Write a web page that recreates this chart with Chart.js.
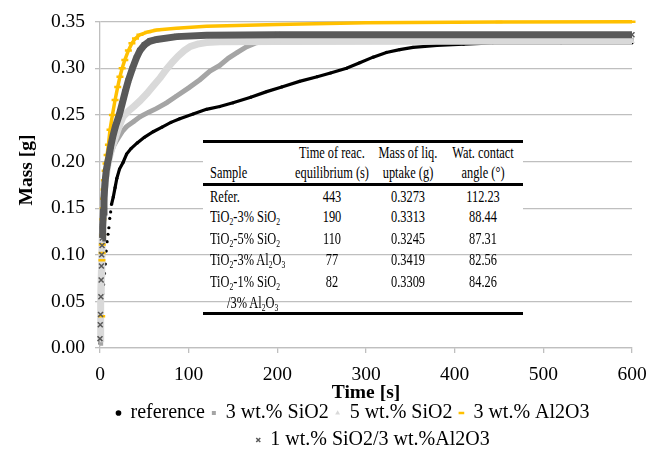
<!DOCTYPE html>
<html>
<head>
<meta charset="utf-8">
<script src="https://cdn.jsdelivr.net/npm/chart.js@4.4.1/dist/chart.umd.min.js"></script>
<style>
  body { margin: 0; background: #fff; }
  #wrap { position: relative; width: 662px; height: 450px; }
  #tbl { position: absolute; left: 0; top: 0; width: 662px; height: 450px; pointer-events: none;
         font-family: 'Liberation Serif', 'Times New Roman', serif; font-size: 16.5px; color: #000; }
  #tbl .cell { position: absolute; white-space: nowrap; line-height: 20px; height: 20px; }
  #tbl .c { transform: translateX(-50%) scaleX(0.75); }
  #tbl .l { transform: scaleX(0.75); transform-origin: 0 50%; }
  #tbl .rule { position: absolute; left: 203px; width: 320px; background: #000; }
  #tbl .cover { position: absolute; left: 203px; width: 320px; top: 139px; height: 110px; background: #fff; }
  #tbl sub { font-size: 0.62em; line-height: 0; vertical-align: -0.3em; }
</style>
</head>
<body>
<div id="wrap">
  <canvas id="myChart" width="662" height="450"></canvas>
  <div id="tbl">
    <div class="cover"></div>
    <div class="rule" style="top:139.5px;height:3px"></div>
    <div class="rule" style="top:183px;height:2.5px"></div>
    <div class="rule" style="top:311.5px;height:3px"></div>
  </div>
</div>
<script>
// time [s] / mass [g]
const refTime = [0, 1, 2, 3, 4, 5, 6, 7, 8, 9, 10, 11, 12, 13, 15, 17, 19, 22, 26, 30, 35, 42, 50, 60, 70, 80, 90, 105, 120, 135, 150, 170, 188, 205, 225, 245, 260, 278, 293, 308, 323, 338, 353, 380, 410, 443, 520, 600];
const refMass = [0.005, 0.025, 0.045, 0.058, 0.068, 0.080, 0.090, 0.104, 0.114, 0.122, 0.129, 0.139, 0.146, 0.154, 0.162, 0.172, 0.182, 0.192, 0.199, 0.208, 0.214, 0.220, 0.226, 0.232, 0.237, 0.242, 0.246, 0.251, 0.256, 0.259, 0.263, 0.269, 0.275, 0.280, 0.286, 0.291, 0.295, 0.300, 0.306, 0.312, 0.317, 0.320, 0.3225, 0.3245, 0.3258, 0.3273, 0.3273, 0.3273];

const si3Time = [0, 0.5, 1, 1.5, 2, 2.5, 3, 3.5, 4, 5, 6, 7, 8, 9.5, 12, 15, 19, 25, 30, 38, 45, 55, 64, 75, 86, 100, 113, 124, 135, 145, 155, 165, 175, 190, 250, 400, 600];
const si3Mass = [0.005, 0.02, 0.04, 0.06, 0.08, 0.10, 0.115, 0.13, 0.142, 0.155, 0.168, 0.18, 0.19, 0.198, 0.208, 0.216, 0.223, 0.232, 0.2375, 0.243, 0.248, 0.253, 0.257, 0.263, 0.270, 0.279, 0.288, 0.297, 0.303, 0.311, 0.317, 0.323, 0.327, 0.330, 0.3305, 0.331, 0.331];

const si5Time = [0, 0.5, 1, 1.5, 2, 2.5, 3, 4, 5, 6, 7.5, 9, 11, 14, 17, 21, 26, 32, 38, 45, 53, 60, 68, 75, 82, 88, 95, 102, 110, 120, 135, 200, 400, 600];
const si5Mass = [0.01, 0.03, 0.055, 0.08, 0.10, 0.12, 0.135, 0.155, 0.17, 0.18, 0.1875, 0.197, 0.206, 0.216, 0.225, 0.236, 0.248, 0.254, 0.259, 0.265, 0.273, 0.281, 0.290, 0.299, 0.307, 0.313, 0.319, 0.3235, 0.326, 0.3277, 0.3285, 0.3288, 0.329, 0.329];

const alTime = [1.9, 2.2, 2.4, 2.6, 2.9, 3.2, 3.6, 4, 4.5, 5, 5.8, 6.8, 8, 9.5, 11.3, 14, 17, 20, 22.5, 25, 28, 32, 36, 40, 45, 54, 64, 86, 120, 200, 300, 450, 600];
const alMass = [0.034, 0.094, 0.102, 0.111, 0.121, 0.138, 0.15, 0.16, 0.17, 0.18, 0.19, 0.198, 0.207, 0.218, 0.234, 0.25, 0.266, 0.28, 0.291, 0.300, 0.309, 0.319, 0.327, 0.332, 0.336, 0.339, 0.341, 0.343, 0.345, 0.347, 0.349, 0.3497, 0.350];

const mixTime = [0, 0.3, 0.6, 1, 1.3, 1.6, 1.9, 2.3, 2.6, 3, 3.8, 4.5, 5.6, 7, 8.5, 10, 12, 14.5, 17.5, 21.7, 25, 28.5, 32, 36.6, 41, 45, 50, 56, 64, 86.5, 120, 200, 600];
const mixMass = [0.01, 0.025, 0.036, 0.055, 0.073, 0.088, 0.1, 0.11, 0.118, 0.13, 0.146, 0.161, 0.177, 0.19, 0.198, 0.205, 0.216, 0.227, 0.238, 0.25, 0.262, 0.275, 0.287, 0.30, 0.311, 0.319, 0.325, 0.329, 0.331, 0.334, 0.3355, 0.336, 0.336];

const seriesNames = ['reference', '3 wt.% SiO2', '5 wt.% SiO2', '3 wt.% Al2O3', '1 wt.% SiO2/3 wt.%Al2O3'];
const yTitle = 'Mass [g]';
const xTitle = 'Time [s]';

// inset table
const tableHead = [['Sample'], ['Time of reac.', 'equilibrium (s)'], ['Mass of liq.', 'uptake (g)'], ['Wat. contact', 'angle (°)']];
const tableSample = [['Refer.'], ['TiO<sub>2</sub>-3% SiO<sub>2</sub>'], ['TiO<sub>2</sub>-5% SiO<sub>2</sub>'], ['TiO<sub>2</sub>-3% Al<sub>2</sub>O<sub>3</sub>'], ['TiO<sub>2</sub>-1% SiO<sub>2</sub>', '/3% Al<sub>2</sub>O<sub>3</sub>']];
const tableTime = ['443', '190', '110', '77', '82'];
const tableMass = ['0.3273', '0.3313', '0.3245', '0.3419', '0.3309'];
const tableAngle = ['112.23', '88.44', '87.31', '82.56', '84.26'];

// table layout (page pixels)
const colX = [210, 331.7, 407.5, 483.3];
const headY = [153.3, 173.3];
const rowY = [196.7, 217.3, 238.8, 260.2, 281.7];
const rowStep = 21.5;

const tbl = document.getElementById('tbl');
function cell(html, x, y, left) {
    const d = document.createElement('div');
    d.className = 'cell ' + (left ? 'l' : 'c');
    d.style.left = x + 'px';
    d.style.top = (y - 10) + 'px';
    d.innerHTML = html;
    tbl.appendChild(d);
}
tableHead.forEach((lines, c) => {
    const first = c === 0 ? 1 : 0;
    lines.forEach((t, k) => cell(t, colX[c], headY[first + k], c === 0));
});
tableSample.forEach((lines, r) => {
    lines.forEach((t, k) => cell(t, colX[0] + (k ? 16.7 : 0), rowY[r] + k * rowStep, true));
    cell(tableTime[r], colX[1], rowY[r]);
    cell(tableMass[r], colX[2], rowY[r]);
    cell(tableAngle[r], colX[3], rowY[r]);
});

const serif = "'Liberation Serif', 'Times New Roman', serif";

function series(i, times, masses, style, lineFrom) {
    return Object.assign({
        label: seriesNames[i],
        data: times.map((t, k) => ({ x: t, y: masses[k] })),
        showLine: true,
        order: 5 - i,
        clip: 10,
        segment: {
            borderColor: c => c.p0.parsed.x < lineFrom ? 'rgba(0,0,0,0)' : undefined
        }
    }, style);
}

// nudge the legend to where the original sits
const legendShift = {
    id: 'legendShift',
    afterLayout(chart) {
        const lg = chart.legend;
        lg.left += 37;
        lg.right += 37;
        lg.top += 10;
        lg.bottom += 10;
        if (lg.lineWidths && lg.lineWidths.length > 1) lg.lineWidths[1] -= 40;
    }
};

// y title sits above the middle of the axis in the original
const massTitle = {
    id: 'massTitle',
    afterDraw(chart) {
        const c = chart.ctx;
        c.save();
        c.translate(27, 170);
        c.rotate(-Math.PI / 2);
        c.font = 'bold 19.5px ' + serif;
        c.fillStyle = '#000';
        c.textAlign = 'center';
        c.textBaseline = 'middle';
        c.fillText(yTitle, 0, 0);
        c.restore();
    }
};

const ctx = document.getElementById('myChart');

new Chart(ctx, {
    type: 'scatter',
    data: {
        datasets: [
            series(0, refTime, refMass, {
                borderColor: '#000', borderWidth: 3.2,
                pointStyle: 'circle', pointRadius: 1.6, pointBackgroundColor: '#000', pointBorderColor: '#000', pointBorderWidth: 0
            }, 13),
            series(1, si3Time, si3Mass, {
                borderColor: '#a5a5a5', borderWidth: 5,
                pointStyle: 'rect', pointRadius: 2.4, pointBackgroundColor: '#a5a5a5', pointBorderColor: '#a5a5a5', pointBorderWidth: 0
            }, 0),
            series(2, si5Time, si5Mass, {
                borderColor: '#d9d9d9', borderWidth: 7,
                pointStyle: 'triangle', pointRadius: 3.5, pointBackgroundColor: '#d9d9d9', pointBorderColor: '#d9d9d9', pointBorderWidth: 0
            }, 0),
            series(3, alTime, alMass, {
                borderColor: '#ffc000', borderWidth: 3.5,
                pointStyle: 'line', pointRadius: 3.5, pointBackgroundColor: '#ffc000', pointBorderColor: '#ffc000', pointBorderWidth: 2.5
            }, 3.2),
            series(4, mixTime, mixMass, {
                borderColor: '#595959', borderWidth: 7,
                pointStyle: 'crossRot', pointRadius: 3.5, pointBackgroundColor: '#595959', pointBorderColor: '#595959', pointBorderWidth: 1.5
            }, 2.6)
        ]
    },
    options: {
        responsive: false,
        animation: false,
        layout: { padding: { left: 0, right: 30, top: 20, bottom: 0 } },
        scales: {
            x: {
                type: 'linear',
                min: 0,
                max: 600,
                grid: { drawOnChartArea: false, tickLength: 5, color: '#bfbfbf', lineWidth: 1.3 },
                border: { color: '#bfbfbf', width: 1.3 },
                ticks: {
                    stepSize: 100,
                    color: '#000',
                    padding: 10,
                    font: { family: serif, size: 19.5 }
                },
                title: {
                    display: true,
                    text: xTitle,
                    color: '#000',
                    padding: { top: 0, bottom: -19 },
                    font: { family: serif, size: 19.5, weight: 'bold' }
                },
                afterFit: s => { s.height = 38; }
            },
            y: {
                min: 0,
                max: 0.35,
                grid: { tickLength: 5, color: '#bfbfbf', lineWidth: 1.3 },
                border: { color: '#bfbfbf', width: 1.3 },
                ticks: {
                    stepSize: 0.05,
                    color: '#000',
                    padding: 10,
                    font: { family: serif, size: 19.5 },
                    callback: v => v.toFixed(2)
                },
                afterFit: s => { s.width = 100; }
            }
        },
        plugins: {
            legend: {
                position: 'bottom',
                labels: {
                    usePointStyle: true,
                    boxWidth: 4,
                    boxHeight: 4,
                    padding: 7,
                    color: '#000',
                    font: { family: serif, size: 20 },
                    sort: (a, b) => a.datasetIndex - b.datasetIndex
                }
            },
            tooltip: { enabled: false }
        }
    },
    plugins: [legendShift, massTitle]
});
</script>
</body>
</html>
